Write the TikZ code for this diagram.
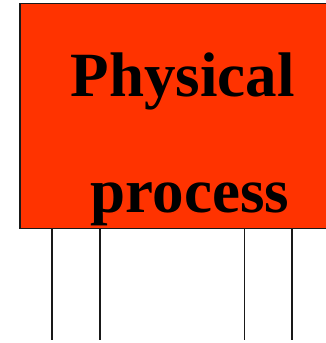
\documentclass[tikz,border=0pt]{standalone}
\usepackage{fontspec}
\setmainfont{Liberation Serif}
\definecolor{procred}{HTML}{FF3300}
\begin{document}
\begin{tikzpicture}[x=1pt,y=1pt,
  box/.style={draw=black!90,line width=1.1pt,fill=procred,inner sep=0pt,outer sep=0pt},
  lbl/.style={anchor=base west,inner sep=0pt,font=\fontsize{63}{63}\selectfont\bfseries},
  wire/.style={draw=black!90,line width=1.3pt}]
\useasboundingbox (0,0) rectangle (326,343);
\clip (0,0) rectangle (326,343);
\node[box,minimum width=320pt,minimum height=225pt,anchor=north west] (proc) at (20,339.5) {};
\node[lbl] (t1) at (70.5,246.3) {Physical};
\node[lbl] (t2) at (90.5,130) {process};
\foreach \x/\n in {52/a,100/b,244.5/c,292/d}{
  \coordinate (\n top) at (\x,114.5);
  \coordinate (\n end) at (\x,3);
  \draw[wire] (\n top) -- (\n end);
}
\end{tikzpicture}
\end{document}
